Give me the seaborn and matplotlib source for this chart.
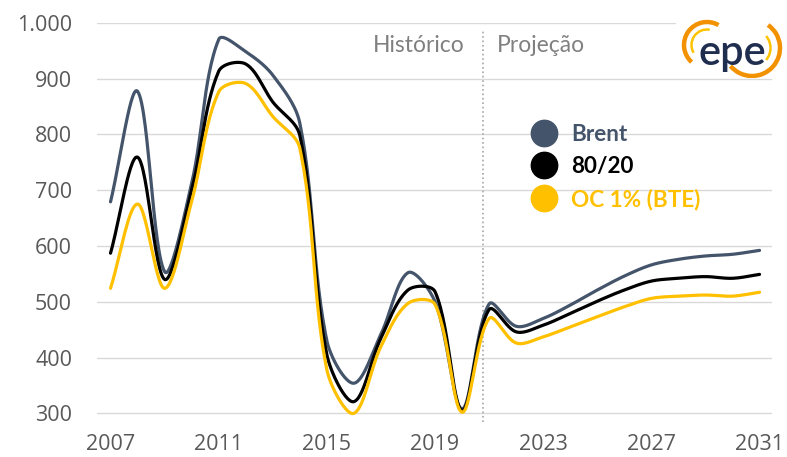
import numpy as np
import pandas as pd
import matplotlib
matplotlib.use('Agg')
import matplotlib.pyplot as plt
from matplotlib.lines import Line2D
from matplotlib.patches import Arc
import seaborn as sns

years = list(range(2007, 2032))
brent = [679, 877, 554, 712, 970, 948, 906, 820, 430, 354, 442, 552, 500,
         308, 496, 456, 470, 494, 521, 546, 566, 576, 582, 585, 592]
mix_80_20 = [587, 759, 540, 700, 913, 926, 858, 798, 405, 321, 435, 521, 518,
             305, 486, 446, 458, 479, 501, 521, 537, 542, 545, 542, 549]
oc_1pct = [524, 675, 524, 680, 876, 891, 832, 775, 378, 300, 420, 497, 495,
           302, 470, 426, 437, 455, 473, 491, 506, 510, 512, 510, 517]
series_names = ['Brent', '80/20', 'OC 1% (BTE)']
colors = ['#44546A', '#000000', '#FFC000']
xtick_years = [2007, 2011, 2015, 2019, 2023, 2027, 2031]
ytick_values = [300, 400, 500, 600, 700, 800, 900, 1000]
ytick_labels = ['300', '400', '500', '600', '700', '800', '900', '1.000']


def smooth_curve(x, y, sx=27.04, sy=0.558, n=30):
    # bezier smoothing (like excel smoothed line), goes through every point;
    # tangents weighted by segment length on screen to avoid overshoot
    P = np.column_stack([np.asarray(x, float) * sx, np.asarray(y, float) * sy])
    t = np.linspace(0, 1, n, endpoint=False)[:, None]
    pts = []
    for i in range(len(P) - 1):
        p0 = P[i - 1] if i > 0 else P[i]
        p1, p2 = P[i], P[i + 1]
        p3 = P[i + 2] if i + 2 < len(P) else P[i + 1]
        d01 = np.linalg.norm(p1 - p0)
        d12 = np.linalg.norm(p2 - p1)
        d23 = np.linalg.norm(p3 - p2)
        w1 = d12 / (d01 + d12)
        w2 = d12 / (d12 + d23)
        c1 = p1 + (p2 - p0) * w1 / 3
        c2 = p2 - (p3 - p1) * w2 / 3
        seg = ((1 - t) ** 3 * p1 + 3 * (1 - t) ** 2 * t * c1
               + 3 * (1 - t) * t ** 2 * c2 + t ** 3 * p2)
        pts.append(seg)
    pts.append(P[-1:])
    pts = np.vstack(pts)
    return pts[:, 0] / sx, pts[:, 1] / sy


frames = []
for name, vals in zip(series_names, [brent, mix_80_20, oc_1pct]):
    cx, cy = smooth_curve(years, vals)
    frames.append(pd.DataFrame({'ano': cx, 'valor': cy, 'serie': name}))
df = pd.concat(frames, ignore_index=True)

sns.set_theme(style='white')
plt.rcParams['font.family'] = ['Lato', 'DejaVu Sans']

fig = plt.figure(figsize=(7.87, 4.57), dpi=100)
ax = fig.add_axes([97 / 787, 32.5 / 457, 675 / 787, 401.8 / 457])

sns.lineplot(data=df, x='ano', y='valor', hue='serie', hue_order=series_names,
             palette=colors, estimator=None, sort=False, linewidth=2.3,
             legend=False, ax=ax, zorder=3)

ax.set_xlim(2006.5, 2031.46)
ax.set_ylim(280, 1000)
ax.set_xticks(xtick_years)
ax.set_xticklabels([str(y) for y in xtick_years])
ax.set_yticks(ytick_values)
ax.set_yticklabels(ytick_labels)
ax.set_xlabel('')
ax.set_ylabel('')
ax.yaxis.grid(True, color='#D9D9D9', linewidth=1)
ax.xaxis.grid(False)
for s in ax.spines.values():
    s.set_visible(False)
ax.tick_params(axis='both', length=0, colors='#595959')
ax.tick_params(axis='y', pad=18)
ax.tick_params(axis='x', pad=7)
for lbl in ax.get_xticklabels() + ax.get_yticklabels():
    lbl.set_fontfamily(['Open Sans', 'DejaVu Sans'])
    lbl.set_fontsize(15.5)

ax.vlines(2020.76, 284, 987, colors='#A6A6A6', linestyles=':', linewidth=1.2, zorder=2)
ax.text(2020.11, 960, 'Histórico', ha='right', va='center', fontsize=16.5, color='#808080')
ax.text(2021.29, 960, 'Projeção', ha='left', va='center', fontsize=16.5, color='#808080')

handles = [Line2D([0], [0], marker='o', linestyle='', markersize=19,
                  markerfacecolor=c, markeredgecolor=c) for c in colors]
leg = fig.legend(handles, series_names, loc='upper left',
                 bbox_to_anchor=(533 / 787, 1 - 124 / 457), bbox_transform=fig.transFigure,
                 frameon=False, handlelength=1, handletextpad=0.7, labelspacing=0.5,
                 borderpad=0, borderaxespad=0, prop={'size': 16.2, 'weight': 'bold'})
for txt, c in zip(leg.get_texts(), colors):
    txt.set_color(c)

# logo epe
lax = fig.add_axes([676 / 787, (457 - 78) / 457, 111 / 787, 66 / 457])
lax.set_xlim(676, 787)
lax.set_ylim(457 - 78, 457 - 12)
lax.set_axis_off()
lax.add_patch(plt.Rectangle((676, 457 - 77), 111, 65, color='white', zorder=0))
lax.add_patch(Arc((707, 412), 46, 46, theta1=60, theta2=228, color='#F39200', lw=3.2))
lax.add_patch(Arc((707, 412), 31, 31, theta1=80, theta2=210, color='#FDC300', lw=1.8))
lax.add_patch(Arc((752, 409), 56, 56, theta1=-140, theta2=55, color='#F39200', lw=3.2))
lax.add_patch(Arc((752, 409), 37, 37, theta1=-40, theta2=40, color='#FDC300', lw=1.8))
lax.text(732, 457 - 53, 'epe', ha='center', va='center', fontsize=30,
         color='#1F2D4E', fontweight='semibold')

fig.savefig('out.png', dpi=100)
